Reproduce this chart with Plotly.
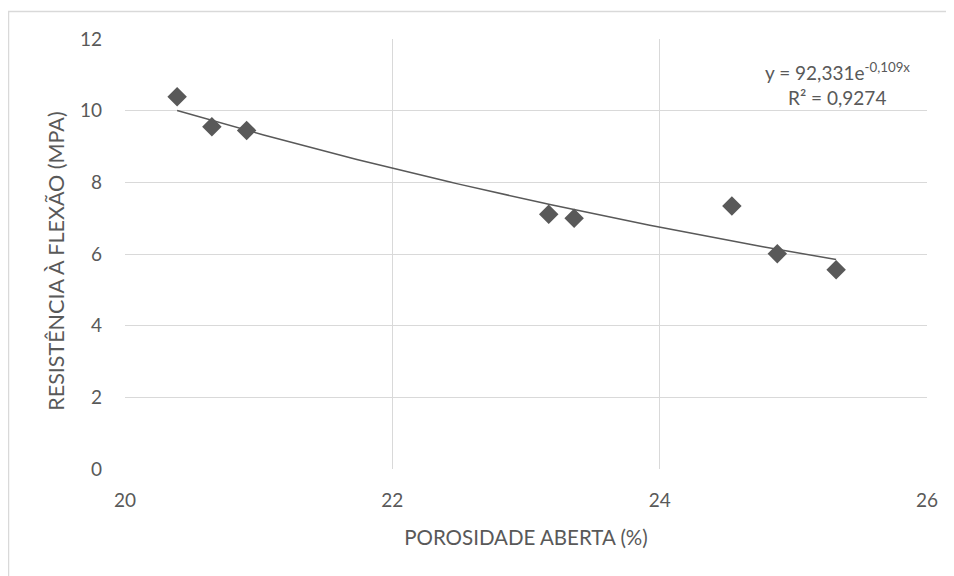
import numpy as np
import plotly.graph_objects as go

porosidade = [20.39, 20.65, 20.91, 23.17, 23.36, 24.54, 24.88, 25.32]
resistencia = [10.39, 9.55, 9.45, 7.11, 7.00, 7.34, 6.01, 5.56]

coef_a = 92.331
coef_b = -0.109
r2_label = "R² = 0,9274"
eq_label = "y = 92,331e<sup>-0,109x</sup>"
x_title = "POROSIDADE ABERTA (%)"
y_title = "RESISTÊNCIA À FLEXÃO (MPA)"

x_ticks = [20, 22, 24, 26]
y_ticks = [0, 2, 4, 6, 8, 10, 12]

trend_x = np.linspace(min(porosidade), max(porosidade), 100)
trend_y = coef_a * np.exp(coef_b * trend_x)

grey = "#595959"
grid = "#d9d9d9"
font_family = "Lato, 'Open Sans', sans-serif"

# page body has an 8px margin; compensate so the plot area lands at
# x 125..927, y 39..469.5 on screen
fig = go.Figure()
fig.add_trace(go.Scatter(x=trend_x, y=trend_y, mode="lines",
                         line=dict(color=grey, width=1.5), hoverinfo="skip",
                         showlegend=False))
fig.add_trace(go.Scatter(x=porosidade, y=resistencia, mode="markers",
                         marker=dict(symbol="diamond", size=15, color=grey),
                         showlegend=False))

fig.update_layout(
    width=954, height=576,
    margin=dict(l=117, r=35, t=31, b=114.5),
    paper_bgcolor="white", plot_bgcolor="white",
    font=dict(family=font_family, size=19, color=grey),
    showlegend=False,
    xaxis=dict(range=[20, 26], tickvals=x_ticks, showgrid=True, gridcolor=grid,
               gridwidth=1, zeroline=False, showline=False,
               ticklabelstandoff=18,
               title=dict(text=x_title, standoff=20,
                          font=dict(size=20.5, color=grey))),
    yaxis=dict(range=[0, 12], tickvals=y_ticks, showgrid=True, gridcolor=grid,
               gridwidth=1, zeroline=False, showline=False,
               ticklabelstandoff=22),
)

px_w, px_h = 802, 430.5
def dom_x(px):
    return (px - 125) / px_w
def dom_y(py):
    return (469.5 - py) / px_h

fig.add_annotation(x=dom_x(56), y=dom_y(262), xref="x domain", yref="y domain",
                   text=y_title, textangle=-90, showarrow=False,
                   font=dict(size=21.5, color=grey),
                   xanchor="center", yanchor="middle")

fig.add_annotation(x=dom_x(837), y=dom_y(72), xref="x domain", yref="y domain",
                   text=eq_label, showarrow=False, font=dict(size=19, color=grey),
                   xanchor="center", yanchor="middle")
fig.add_annotation(x=dom_x(837), y=dom_y(98), xref="x domain", yref="y domain",
                   text=r2_label, showarrow=False, font=dict(size=19, color=grey),
                   xanchor="center", yanchor="middle")

# outer chart border
fig.add_shape(type="rect", xref="paper", yref="paper",
              x0=dom_x(8.5), x1=dom_x(1000), y0=dom_y(1000), y1=dom_y(11.5),
              line=dict(color=grid, width=1.5), fillcolor="rgba(0,0,0,0)",
              layer="below")

fig.write_html("out.html")
